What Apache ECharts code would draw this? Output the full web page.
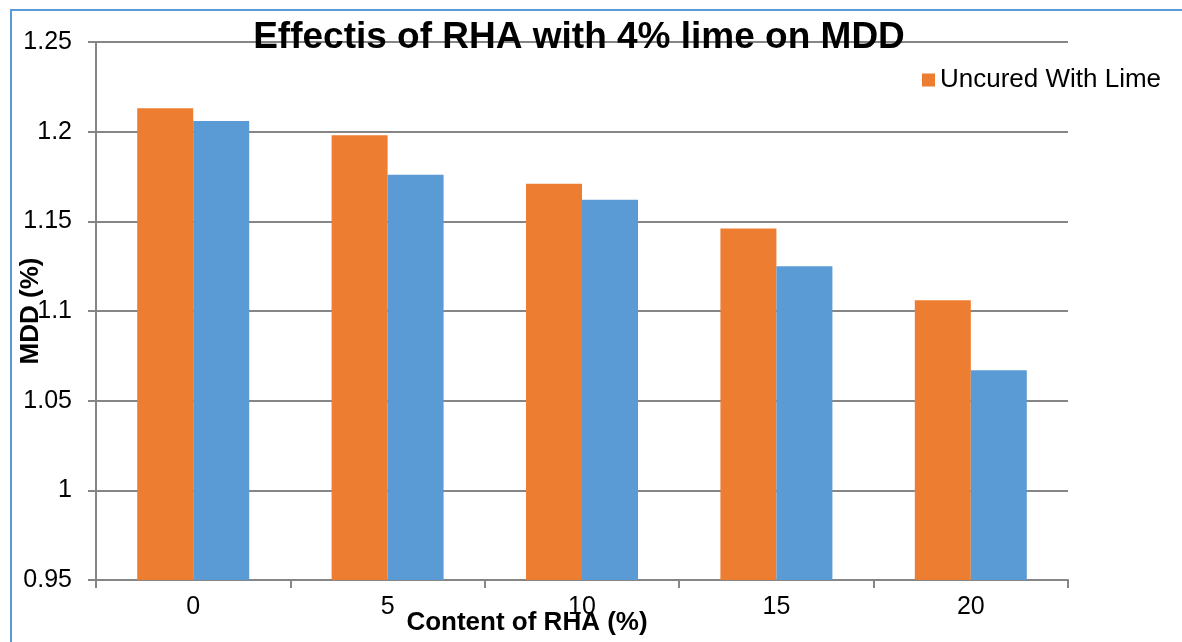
<!DOCTYPE html>
<html>
<head>
<meta charset="utf-8">
<script src="https://cdn.jsdelivr.net/npm/echarts@6/dist/echarts.min.js"></script>
<style>
html,body{margin:0;padding:0;background:#fff;}
#c{width:1182px;height:642px;}
</style>
</head>
<body>
<div id="c"></div>
<script>
const categories = ['0', '5', '10', '15', '20'];
const uncuredWithLime = [1.213, 1.198, 1.171, 1.146, 1.106];
const curedWithLime = [1.206, 1.176, 1.162, 1.125, 1.067];
const seriesNames = ['Uncured With Lime', 'Cured With Lime'];
const titleText = 'Effectis of RHA with 4% lime on MDD';
const xName = 'Content of RHA (%)';
const yName = 'MDD (%)';

const font = '"Liberation Sans", Arial, sans-serif';
const chart = echarts.init(document.getElementById('c'));
chart.setOption({
  animation: false,
  backgroundColor: '#fff',
  title: {
    text: titleText,
    left: 574, top: 14, textAlign: 'center',
    textStyle: {fontFamily: font, fontWeight: 'bold', fontSize: 37, color: '#000'},
    z: 10
  },
  legend: {
    data: [seriesNames[0]],
    left: 917, top: 62,
    itemWidth: 13, itemHeight: 13, itemGap: 8,
    icon: 'rect',
    textStyle: {fontFamily: font, fontSize: 26, color: '#000'}
  },
  graphic: [{
    type: 'rect', z: -1,
    shape: {x: 11, y: 10, width: 1250, height: 700},
    style: {fill: 'none', stroke: '#5B9BD5', lineWidth: 2}
  }, {
    type: 'text', x: 527, y: 623,
    style: {text: xName, font: 'bold 26px ' + font, fill: '#000', align: 'center', verticalAlign: 'middle'}
  }, {
    type: 'text', x: 31, y: 311, rotation: Math.PI / 2,
    style: {text: yName, font: 'bold 26px ' + font, fill: '#000', align: 'center', verticalAlign: 'middle'}
  }],
  grid: {left: 96, right: 114, top: 42, bottom: 62, containLabel: false},
  xAxis: {
    type: 'category', data: categories,
    axisLine: {lineStyle: {color: '#868686', width: 2}},
    axisTick: {show: true, length: 8, lineStyle: {color: '#868686', width: 2}},
    axisLabel: {fontFamily: font, fontSize: 25, color: '#000', margin: 15}
  },
  yAxis: {
    type: 'value', min: 0.95, max: 1.25, interval: 0.05,
    axisLine: {show: true, lineStyle: {color: '#868686', width: 2}},
    axisTick: {show: true, length: 8, lineStyle: {color: '#868686', width: 2}},
    splitLine: {lineStyle: {color: '#868686', width: 2}},
    axisLabel: {
      fontFamily: font, fontSize: 25, color: '#000', margin: 24,
      formatter: v => String(parseFloat(v.toFixed(2)))
    }
  },
  series: [{
    name: seriesNames[0], type: 'bar', data: uncuredWithLime,
    barWidth: 56, barGap: '0%',
    itemStyle: {color: '#ED7D31'}
  }, {
    name: seriesNames[1], type: 'bar', data: curedWithLime,
    barWidth: 56, barGap: '0%',
    itemStyle: {color: '#5B9BD5'}
  }]
});
</script>
</body>
</html>
